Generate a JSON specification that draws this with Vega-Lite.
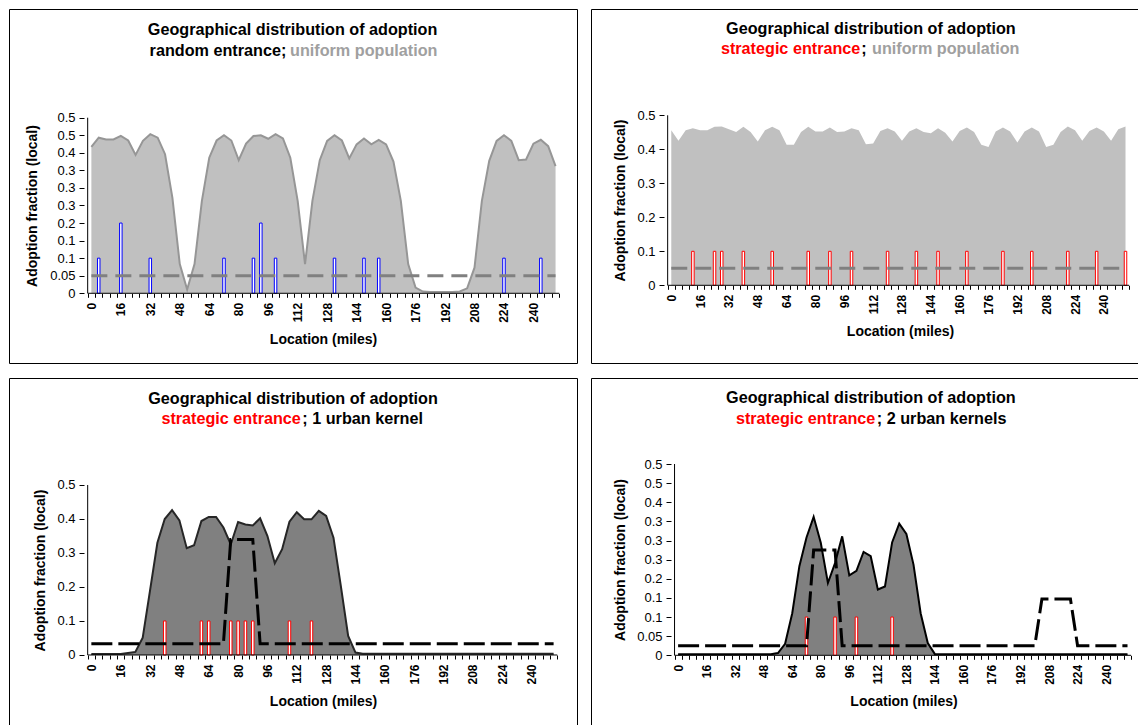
{
  "$schema": "https://vega.github.io/schema/vega-lite/v6.json",
  "background": "white",
  "padding": {"left": 8, "top": 8, "right": 0, "bottom": 0},
  "config": {
    "font": "Liberation Sans",
    "view": {"stroke": "#000000", "strokeWidth": 1},
    "axis": {"labelFont": "Liberation Sans", "titleFont": "Liberation Sans", "grid": false},
    "text": {"font": "Liberation Sans", "fontSize": 16.2, "fontWeight": "bold", "baseline": "middle"}
  },
  "datasets": {
    "p1area": [
      {"mi":0,"v":0.417},{"mi":4,"v":0.443},{"mi":8,"v":0.438},{"mi":12,"v":0.438},{"mi":16,"v":0.448},{"mi":20,"v":0.435},{"mi":24,"v":0.394},{"mi":28,"v":0.434},{"mi":32,"v":0.453},{"mi":36,"v":0.443},
      {"mi":40,"v":0.396},{"mi":44,"v":0.272},{"mi":48,"v":0.083},{"mi":52,"v":0.011},{"mi":56,"v":0.083},{"mi":60,"v":0.263},{"mi":64,"v":0.386},{"mi":68,"v":0.435},{"mi":72,"v":0.45},{"mi":76,"v":0.435},
      {"mi":80,"v":0.379},{"mi":84,"v":0.426},{"mi":88,"v":0.448},{"mi":92,"v":0.45},{"mi":96,"v":0.44},{"mi":100,"v":0.453},{"mi":104,"v":0.441},{"mi":108,"v":0.386},{"mi":112,"v":0.263},{"mi":116,"v":0.083},
      {"mi":120,"v":0.263},{"mi":124,"v":0.379},{"mi":128,"v":0.434},{"mi":132,"v":0.45},{"mi":136,"v":0.435},{"mi":140,"v":0.384},{"mi":144,"v":0.424},{"mi":148,"v":0.441},{"mi":152,"v":0.424},{"mi":156,"v":0.437},
      {"mi":160,"v":0.424},{"mi":164,"v":0.375},{"mi":168,"v":0.263},{"mi":172,"v":0.083},{"mi":176,"v":0.016},{"mi":180,"v":0.005},{"mi":184,"v":0.004},{"mi":188,"v":0.004},{"mi":192,"v":0.004},{"mi":196,"v":0.004},
      {"mi":200,"v":0.005},{"mi":204,"v":0.014},{"mi":208,"v":0.073},{"mi":212,"v":0.263},{"mi":216,"v":0.377},{"mi":220,"v":0.434},{"mi":224,"v":0.45},{"mi":228,"v":0.434},{"mi":232,"v":0.379},{"mi":236,"v":0.381},
      {"mi":240,"v":0.426},{"mi":244,"v":0.437},{"mi":248,"v":0.419},{"mi":252,"v":0.362}
    ],
    "p1bars": [
      {"mi":4,"v":0.1},{"mi":16,"v":0.2},{"mi":32,"v":0.1},{"mi":72,"v":0.1},{"mi":88,"v":0.1},{"mi":92,"v":0.2},{"mi":100,"v":0.1},{"mi":132,"v":0.1},{"mi":148,"v":0.1},{"mi":156,"v":0.1},{"mi":224,"v":0.1},{"mi":244,"v":0.1}
    ],
    "flatdash": [{"mi":0,"v":0.05},{"mi":252,"v":0.05}],
    "p2area": [
      {"mi":0,"v":0.456},{"mi":4,"v":0.425},{"mi":8,"v":0.456},{"mi":12,"v":0.462},{"mi":16,"v":0.456},{"mi":20,"v":0.456},{"mi":24,"v":0.466},{"mi":28,"v":0.467},{"mi":32,"v":0.459},{"mi":36,"v":0.451},
      {"mi":40,"v":0.466},{"mi":44,"v":0.451},{"mi":48,"v":0.423},{"mi":52,"v":0.456},{"mi":56,"v":0.466},{"mi":60,"v":0.456},{"mi":64,"v":0.413},{"mi":68,"v":0.413},{"mi":72,"v":0.451},{"mi":76,"v":0.466},
      {"mi":80,"v":0.452},{"mi":84,"v":0.452},{"mi":88,"v":0.464},{"mi":92,"v":0.451},{"mi":96,"v":0.452},{"mi":100,"v":0.462},{"mi":104,"v":0.456},{"mi":108,"v":0.415},{"mi":112,"v":0.417},{"mi":116,"v":0.454},
      {"mi":120,"v":0.462},{"mi":124,"v":0.452},{"mi":128,"v":0.425},{"mi":132,"v":0.452},{"mi":136,"v":0.462},{"mi":140,"v":0.451},{"mi":144,"v":0.447},{"mi":148,"v":0.462},{"mi":152,"v":0.449},{"mi":156,"v":0.423},
      {"mi":160,"v":0.454},{"mi":164,"v":0.464},{"mi":168,"v":0.451},{"mi":172,"v":0.413},{"mi":176,"v":0.407},{"mi":180,"v":0.452},{"mi":184,"v":0.464},{"mi":188,"v":0.452},{"mi":192,"v":0.42},{"mi":196,"v":0.452},
      {"mi":200,"v":0.464},{"mi":204,"v":0.452},{"mi":208,"v":0.407},{"mi":212,"v":0.413},{"mi":216,"v":0.451},{"mi":220,"v":0.467},{"mi":224,"v":0.456},{"mi":228,"v":0.425},{"mi":232,"v":0.454},{"mi":236,"v":0.464},
      {"mi":240,"v":0.452},{"mi":244,"v":0.425},{"mi":248,"v":0.459},{"mi":252,"v":0.467}
    ],
    "p2bars": [
      {"mi":12,"v":0.1},{"mi":24,"v":0.1},{"mi":28,"v":0.1},{"mi":40,"v":0.1},{"mi":56,"v":0.1},{"mi":76,"v":0.1},{"mi":88,"v":0.1},{"mi":100,"v":0.1},{"mi":120,"v":0.1},{"mi":136,"v":0.1},{"mi":148,"v":0.1},{"mi":164,"v":0.1},{"mi":184,"v":0.1},{"mi":200,"v":0.1},{"mi":220,"v":0.1},{"mi":236,"v":0.1},{"mi":252,"v":0.1}
    ],
    "p3area": [
      {"mi":0,"v":0.003},{"mi":4,"v":0.003},{"mi":8,"v":0.003},{"mi":12,"v":0.003},{"mi":16,"v":0.003},{"mi":20,"v":0.006},{"mi":24,"v":0.009},{"mi":28,"v":0.051},{"mi":32,"v":0.19},{"mi":36,"v":0.33},
      {"mi":40,"v":0.4},{"mi":44,"v":0.426},{"mi":48,"v":0.396},{"mi":52,"v":0.314},{"mi":56,"v":0.323},{"mi":60,"v":0.394},{"mi":64,"v":0.406},{"mi":68,"v":0.406},{"mi":72,"v":0.375},{"mi":76,"v":0.325},
      {"mi":80,"v":0.391},{"mi":84,"v":0.384},{"mi":88,"v":0.381},{"mi":92,"v":0.402},{"mi":96,"v":0.35},{"mi":100,"v":0.27},{"mi":104,"v":0.311},{"mi":108,"v":0.392},{"mi":112,"v":0.42},{"mi":116,"v":0.399},
      {"mi":120,"v":0.399},{"mi":124,"v":0.424},{"mi":128,"v":0.409},{"mi":132,"v":0.345},{"mi":136,"v":0.203},{"mi":140,"v":0.056},{"mi":144,"v":0.007},{"mi":148,"v":0.004},{"mi":152,"v":0.004},{"mi":156,"v":0.004},
      {"mi":160,"v":0.004},{"mi":164,"v":0.004},{"mi":168,"v":0.004},{"mi":172,"v":0.004},{"mi":176,"v":0.004},{"mi":180,"v":0.004},{"mi":184,"v":0.004},{"mi":188,"v":0.004},{"mi":192,"v":0.004},{"mi":196,"v":0.004},
      {"mi":200,"v":0.004},{"mi":204,"v":0.004},{"mi":208,"v":0.004},{"mi":212,"v":0.004},{"mi":216,"v":0.004},{"mi":220,"v":0.004},{"mi":224,"v":0.004},{"mi":228,"v":0.004},{"mi":232,"v":0.004},{"mi":236,"v":0.004},
      {"mi":240,"v":0.004},{"mi":244,"v":0.004},{"mi":248,"v":0.004},{"mi":252,"v":0.004}
    ],
    "p3bars": [
      {"mi":40,"v":0.1},{"mi":60,"v":0.1},{"mi":64,"v":0.1},{"mi":76,"v":0.1},{"mi":80,"v":0.1},{"mi":84,"v":0.1},{"mi":88,"v":0.1},{"mi":108,"v":0.1},{"mi":120,"v":0.1}
    ],
    "p3dash": [
      {"mi":0,"v":0.033},{"mi":72,"v":0.033},{"mi":76,"v":0.34},{"mi":88,"v":0.34},{"mi":92,"v":0.033},{"mi":252,"v":0.033}
    ],
    "p4area": [
      {"mi":0,"v":0.003},{"mi":4,"v":0.003},{"mi":8,"v":0.003},{"mi":12,"v":0.003},{"mi":16,"v":0.003},{"mi":20,"v":0.003},{"mi":24,"v":0.003},{"mi":28,"v":0.003},{"mi":32,"v":0.003},{"mi":36,"v":0.003},
      {"mi":40,"v":0.003},{"mi":44,"v":0.003},{"mi":48,"v":0.003},{"mi":52,"v":0.003},{"mi":56,"v":0.006},{"mi":60,"v":0.03},{"mi":64,"v":0.11},{"mi":68,"v":0.233},{"mi":72,"v":0.308},{"mi":76,"v":0.362},
      {"mi":80,"v":0.294},{"mi":84,"v":0.189},{"mi":88,"v":0.241},{"mi":92,"v":0.311},{"mi":96,"v":0.209},{"mi":100,"v":0.221},{"mi":104,"v":0.27},{"mi":108,"v":0.259},{"mi":112,"v":0.172},{"mi":116,"v":0.18},
      {"mi":120,"v":0.295},{"mi":124,"v":0.344},{"mi":128,"v":0.317},{"mi":132,"v":0.237},{"mi":136,"v":0.11},{"mi":140,"v":0.032},{"mi":144,"v":0.003},{"mi":148,"v":0.003},{"mi":152,"v":0.003},{"mi":156,"v":0.003},
      {"mi":160,"v":0.003},{"mi":164,"v":0.003},{"mi":168,"v":0.003},{"mi":172,"v":0.003},{"mi":176,"v":0.003},{"mi":180,"v":0.003},{"mi":184,"v":0.003},{"mi":188,"v":0.003},{"mi":192,"v":0.003},{"mi":196,"v":0.003},
      {"mi":200,"v":0.003},{"mi":204,"v":0.003},{"mi":208,"v":0.003},{"mi":212,"v":0.003},{"mi":216,"v":0.003},{"mi":220,"v":0.003},{"mi":224,"v":0.003},{"mi":228,"v":0.003},{"mi":232,"v":0.003},{"mi":236,"v":0.003},
      {"mi":240,"v":0.003},{"mi":244,"v":0.003},{"mi":248,"v":0.003},{"mi":252,"v":0.003}
    ],
    "p4bars": [
      {"mi":72,"v":0.1},{"mi":88,"v":0.1},{"mi":100,"v":0.1},{"mi":120,"v":0.1}
    ],
    "p4dash": [
      {"mi":0,"v":0.025},{"mi":72,"v":0.025},{"mi":76,"v":0.275},{"mi":88,"v":0.275},{"mi":92,"v":0.025},{"mi":200,"v":0.025},{"mi":204,"v":0.147},{"mi":220,"v":0.147},{"mi":224,"v":0.025},{"mi":252,"v":0.025}
    ]
  },
  "spacing": 13,
  "vconcat": [
    {
      "spacing": 12,
      "hconcat": [
        {
          "width": 568, "height": 354,
          "resolve": {"axis": {"x": "independent", "y": "independent"}},
          "layer": [
            {"data": {"name": "p1area"}, "mark": {"type": "area", "color": "#c0c0c0"},
             "encoding": {
               "x": {"field": "mi", "type": "quantitative", "scale": {"domain": [-42, 260.93], "nice": false, "zero": false},
                     "axis": {"values": [0,16,32,48,64,80,96,112,128,144,160,176,192,208,224,240], "orient": "bottom", "offset": -69.7, "domain": false, "ticks": false, "grid": false, "labelAngle": 270, "labelAlign": "right", "labelBaseline": "middle", "labelPadding": 9, "labelFontSize": 12, "labelFontWeight": "bold", "labelColor": "#000000", "labelFlush": false, "labelOverlap": false, "title": "Location (miles)", "titleFontSize": 14, "titleFontWeight": "bold", "titleColor": "#000000", "titleX": 314, "titleY": 45.7, "titleBaseline": "middle", "titleAlign": "center"}},
               "y": {"field": "v", "type": "quantitative", "scale": {"domain": [-0.1985, 0.8095], "nice": false, "zero": false},
                     "axis": {"values": [0,0.05,0.1,0.15,0.2,0.25,0.3,0.35,0.4,0.45,0.5], "orient": "left", "offset": -75, "domain": false, "grid": false, "tickSize": 5, "tickColor": "#000000", "labelPadding": 4, "labelFontSize": 13, "labelColor": "#000000", "labelFlush": false, "labelOverlap": false, "format": "~g", "title": "Adoption fraction (local)", "titleFontSize": 14, "titleFontWeight": "bold", "titleColor": "#000000", "titleX": -51.5, "titleY": 196.5, "titleBaseline": "middle", "titleAlign": "center", "titleAngle": 270}},
               "y2": {"datum": 0}
             }},
            {"data": {"name": "p1area"}, "mark": {"type": "line", "color": "#969696", "strokeWidth": 2},
             "encoding": {"x": {"field": "mi", "type": "quantitative", "axis": null}, "y": {"field": "v", "type": "quantitative", "axis": null}}},
            {"data": {"name": "p1bars"}, "mark": {"type": "bar", "size": 2.5, "fill": "#ffffff", "stroke": "#0000ff", "strokeWidth": 1},
             "encoding": {
               "x": {"field": "mi", "type": "quantitative",
                     "axis": {"values": [-2,2,6,10,14,18,22,26,30,34,38,42,46,50,54,58,62,66,70,74,78,82,86,90,94,98,102,106,110,114,118,122,126,130,134,138,142,146,150,154,158,162,166,170,174,178,182,186,190,194,198,202,206,210,214,218,222,226,230,234,238,242,246,250,254], "orient": "bottom", "offset": -69.7, "domain": false, "ticks": true, "tickSize": 4, "tickColor": "#000000", "labels": false, "grid": false, "title": null}},
               "y": {"field": "v", "type": "quantitative", "axis": null},
               "y2": {"datum": 0}
             }},
            {"data": {"name": "flatdash"}, "mark": {"type": "line", "color": "#808080", "strokeWidth": 3, "strokeDash": [16, 8]},
             "encoding": {"x": {"field": "mi", "type": "quantitative", "axis": null}, "y": {"field": "v", "type": "quantitative", "axis": null}}},
            {"data": {"values": [{}]}, "mark": {"type": "rule", "color": "#000000", "strokeWidth": 1},
             "encoding": {"x": {"datum": -2, "axis": null}, "y": {"datum": 0, "axis": null}, "y2": {"datum": 0.5}}},
            {"data": {"values": [{}]}, "mark": {"type": "rule", "color": "#000000", "strokeWidth": 1},
             "encoding": {"x": {"datum": -2, "axis": null}, "x2": {"datum": 254}, "y": {"datum": 0, "axis": null}}},
            {"data": {"values": [{}]}, "mark": {"type": "text", "text": "Geographical distribution of adoption", "align": "center", "color": "#000000"},
             "encoding": {"x": {"datum": 109.25, "axis": null}, "y": {"datum": 0.7497, "axis": null}}},
            {"data": {"values": [{}]}, "mark": {"type": "text", "text": "random entrance;", "align": "right", "color": "#000000"},
             "encoding": {"x": {"datum": 105.84, "axis": null}, "y": {"datum": 0.69, "axis": null}}},
            {"data": {"values": [{}]}, "mark": {"type": "text", "text": "uniform population", "align": "left", "dx": 3.7, "color": "#a0a0a0"},
             "encoding": {"x": {"datum": 105.84, "axis": null}, "y": {"datum": 0.69, "axis": null}}}
          ]
        },
        {
          "width": 549, "height": 354,
          "resolve": {"axis": {"x": "independent", "y": "independent"}},
          "layer": [
            {"data": {"name": "p2area"}, "mark": {"type": "area", "color": "#c0c0c0"},
             "encoding": {
               "x": {"field": "mi", "type": "quantitative", "scale": {"domain": [-41.76, 257.27], "nice": false, "zero": false},
                     "axis": {"values": [0,16,32,48,64,80,96,112,128,144,160,176,192,208,224,240], "orient": "bottom", "offset": -77.7, "domain": false, "ticks": false, "grid": false, "labelAngle": 270, "labelAlign": "right", "labelBaseline": "middle", "labelPadding": 9, "labelFontSize": 12, "labelFontWeight": "bold", "labelColor": "#000000", "labelFlush": false, "labelOverlap": false, "title": "Location (miles)", "titleFontSize": 14, "titleFontWeight": "bold", "titleColor": "#000000", "titleX": 309, "titleY": 45.7, "titleBaseline": "middle", "titleAlign": "center"}},
               "y": {"field": "v", "type": "quantitative", "scale": {"domain": [-0.2285, 0.8126], "nice": false, "zero": false},
                     "axis": {"values": [0,0.1,0.2,0.3,0.4,0.5], "orient": "left", "offset": -73, "domain": false, "grid": false, "tickSize": 5, "tickColor": "#000000", "labelPadding": 4, "labelFontSize": 13, "labelColor": "#000000", "labelFlush": false, "labelOverlap": false, "format": "~g", "title": "Adoption fraction (local)", "titleFontSize": 14, "titleFontWeight": "bold", "titleColor": "#000000", "titleX": -43.5, "titleY": 191, "titleBaseline": "middle", "titleAlign": "center", "titleAngle": 270}},
               "y2": {"datum": 0}
             }},
            {"data": {"name": "p2bars"}, "mark": {"type": "bar", "size": 2.5, "fill": "#ffffff", "stroke": "#ff0000", "strokeWidth": 1},
             "encoding": {
               "x": {"field": "mi", "type": "quantitative",
                     "axis": {"values": [-2,2,6,10,14,18,22,26,30,34,38,42,46,50,54,58,62,66,70,74,78,82,86,90,94,98,102,106,110,114,118,122,126,130,134,138,142,146,150,154,158,162,166,170,174,178,182,186,190,194,198,202,206,210,214,218,222,226,230,234,238,242,246,250,254], "orient": "bottom", "offset": -77.7, "domain": false, "ticks": true, "tickSize": 4, "tickColor": "#000000", "labels": false, "grid": false, "title": null}},
               "y": {"field": "v", "type": "quantitative", "axis": null},
               "y2": {"datum": 0}
             }},
            {"data": {"name": "flatdash"}, "mark": {"type": "line", "color": "#808080", "strokeWidth": 3, "strokeDash": [16, 8]},
             "encoding": {"x": {"field": "mi", "type": "quantitative", "axis": null}, "y": {"field": "v", "type": "quantitative", "axis": null}}},
            {"data": {"values": [{}]}, "mark": {"type": "rule", "color": "#000000", "strokeWidth": 1},
             "encoding": {"x": {"datum": -2, "axis": null}, "y": {"datum": 0, "axis": null}, "y2": {"datum": 0.5}}},
            {"data": {"values": [{}]}, "mark": {"type": "rule", "color": "#000000", "strokeWidth": 1},
             "encoding": {"x": {"datum": -2, "axis": null}, "x2": {"datum": 254}, "y": {"datum": 0, "axis": null}}},
            {"data": {"values": [{}]}, "mark": {"type": "text", "text": "Geographical distribution of adoption", "align": "center", "color": "#000000"},
             "encoding": {"x": {"datum": 110.75, "axis": null}, "y": {"datum": 0.7547, "axis": null}}},
            {"data": {"values": [{}]}, "mark": {"type": "text", "text": "strategic entrance", "align": "right", "color": "#ff0000"},
             "encoding": {"x": {"datum": 104.9, "axis": null}, "y": {"datum": 0.695, "axis": null}}},
            {"data": {"values": [{}]}, "mark": {"type": "text", "text": ";", "align": "left", "dx": 1, "color": "#000000"},
             "encoding": {"x": {"datum": 104.9, "axis": null}, "y": {"datum": 0.695, "axis": null}}},
            {"data": {"values": [{}]}, "mark": {"type": "text", "text": "uniform population", "align": "left", "dx": 11.7, "color": "#a0a0a0"},
             "encoding": {"x": {"datum": 104.9, "axis": null}, "y": {"datum": 0.695, "axis": null}}}
          ]
        }
      ]
    },
    {
      "spacing": 12,
      "hconcat": [
        {
          "width": 568, "height": 349,
          "resolve": {"axis": {"x": "independent", "y": "independent"}},
          "layer": [
            {"data": {"name": "p3area"}, "mark": {"type": "area", "color": "#808080"},
             "encoding": {
               "x": {"field": "mi", "type": "quantitative", "scale": {"domain": [-42.17, 262.03], "nice": false, "zero": false},
                     "axis": {"values": [0,16,32,48,64,80,96,112,128,144,160,176,192,208,224,240], "orient": "bottom", "offset": -72, "domain": false, "ticks": false, "grid": false, "labelAngle": 270, "labelAlign": "right", "labelBaseline": "middle", "labelPadding": 9, "labelFontSize": 12, "labelFontWeight": "bold", "labelColor": "#000000", "labelFlush": false, "labelOverlap": false, "title": "Location (miles)", "titleFontSize": 14, "titleFontWeight": "bold", "titleColor": "#000000", "titleX": 314, "titleY": 46, "titleBaseline": "middle", "titleAlign": "center"}},
               "y": {"field": "v", "type": "quantitative", "scale": {"domain": [-0.2118, 0.8147], "nice": false, "zero": false},
                     "axis": {"values": [0,0.1,0.2,0.3,0.4,0.5], "orient": "left", "offset": -75, "domain": false, "grid": false, "tickSize": 5, "tickColor": "#000000", "labelPadding": 4, "labelFontSize": 13, "labelColor": "#000000", "labelFlush": false, "labelOverlap": false, "format": "~g", "title": "Adoption fraction (local)", "titleFontSize": 14, "titleFontWeight": "bold", "titleColor": "#000000", "titleX": -44, "titleY": 192, "titleBaseline": "middle", "titleAlign": "center", "titleAngle": 270}},
               "y2": {"datum": 0}
             }},
            {"data": {"name": "p3area"}, "mark": {"type": "line", "color": "#262626", "strokeWidth": 2},
             "encoding": {"x": {"field": "mi", "type": "quantitative", "axis": null}, "y": {"field": "v", "type": "quantitative", "axis": null}}},
            {"data": {"name": "p3bars"}, "mark": {"type": "bar", "size": 2.5, "fill": "#ffffff", "stroke": "#ff0000", "strokeWidth": 1},
             "encoding": {
               "x": {"field": "mi", "type": "quantitative",
                     "axis": {"values": [-2,2,6,10,14,18,22,26,30,34,38,42,46,50,54,58,62,66,70,74,78,82,86,90,94,98,102,106,110,114,118,122,126,130,134,138,142,146,150,154,158,162,166,170,174,178,182,186,190,194,198,202,206,210,214,218,222,226,230,234,238,242,246,250,254], "orient": "bottom", "offset": -72, "domain": false, "ticks": true, "tickSize": 4, "tickColor": "#000000", "labels": false, "grid": false, "title": null}},
               "y": {"field": "v", "type": "quantitative", "axis": null},
               "y2": {"datum": 0}
             }},
            {"data": {"name": "p3dash"}, "mark": {"type": "line", "color": "#000000", "strokeWidth": 3, "strokeDash": [21, 6]},
             "encoding": {"x": {"field": "mi", "type": "quantitative", "axis": null}, "y": {"field": "v", "type": "quantitative", "axis": null}}},
            {"data": {"values": [{}]}, "mark": {"type": "rule", "color": "#000000", "strokeWidth": 1},
             "encoding": {"x": {"datum": -2, "axis": null}, "y": {"datum": 0, "axis": null}, "y2": {"datum": 0.5}}},
            {"data": {"values": [{}]}, "mark": {"type": "rule", "color": "#000000", "strokeWidth": 1},
             "encoding": {"x": {"datum": -2, "axis": null}, "x2": {"datum": 254}, "y": {"datum": 0, "axis": null}}},
            {"data": {"values": [{}]}, "mark": {"type": "text", "text": "Geographical distribution of adoption", "align": "center", "color": "#000000"},
             "encoding": {"x": {"datum": 109.94, "axis": null}, "y": {"datum": 0.7529, "axis": null}}},
            {"data": {"values": [{}]}, "mark": {"type": "text", "text": "strategic entrance", "align": "right", "color": "#ff0000"},
             "encoding": {"x": {"datum": 114.2, "axis": null}, "y": {"datum": 0.694, "axis": null}}},
            {"data": {"values": [{}]}, "mark": {"type": "text", "text": "; 1 urban kernel", "align": "left", "dx": 1.5, "color": "#000000"},
             "encoding": {"x": {"datum": 114.2, "axis": null}, "y": {"datum": 0.694, "axis": null}}}
          ]
        },
        {
          "width": 549, "height": 349,
          "resolve": {"axis": {"x": "independent", "y": "independent"}},
          "layer": [
            {"data": {"name": "p4area"}, "mark": {"type": "area", "color": "#808080"},
             "encoding": {
               "x": {"field": "mi", "type": "quantitative", "scale": {"domain": [-46.04, 256.2], "nice": false, "zero": false},
                     "axis": {"values": [0,16,32,48,64,80,96,112,128,144,160,176,192,208,224,240], "orient": "bottom", "offset": -71.7, "domain": false, "ticks": false, "grid": false, "labelAngle": 270, "labelAlign": "right", "labelBaseline": "middle", "labelPadding": 9, "labelFontSize": 12, "labelFontWeight": "bold", "labelColor": "#000000", "labelFlush": false, "labelOverlap": false, "title": "Location (miles)", "titleFontSize": 14, "titleFontWeight": "bold", "titleColor": "#000000", "titleX": 312.5, "titleY": 45.7, "titleBaseline": "middle", "titleAlign": "center"}},
               "y": {"field": "v", "type": "quantitative", "scale": {"domain": [-0.1874, 0.7248], "nice": false, "zero": false},
                     "axis": {"values": [0,0.05,0.1,0.15,0.2,0.25,0.3,0.35,0.4,0.45,0.5], "orient": "left", "offset": -80, "domain": false, "grid": false, "tickSize": 5, "tickColor": "#000000", "labelPadding": 4, "labelFontSize": 13, "labelColor": "#000000", "labelFlush": false, "labelOverlap": false, "format": "~g", "title": "Adoption fraction (local)", "titleFontSize": 14, "titleFontWeight": "bold", "titleColor": "#000000", "titleX": -50.5, "titleY": 181.5, "titleBaseline": "middle", "titleAlign": "center", "titleAngle": 270}},
               "y2": {"datum": 0}
             }},
            {"data": {"name": "p4area"}, "mark": {"type": "line", "color": "#000000", "strokeWidth": 2},
             "encoding": {"x": {"field": "mi", "type": "quantitative", "axis": null}, "y": {"field": "v", "type": "quantitative", "axis": null}}},
            {"data": {"name": "p4bars"}, "mark": {"type": "bar", "size": 2.5, "fill": "#ffffff", "stroke": "#ff0000", "strokeWidth": 1},
             "encoding": {
               "x": {"field": "mi", "type": "quantitative",
                     "axis": {"values": [-2,2,6,10,14,18,22,26,30,34,38,42,46,50,54,58,62,66,70,74,78,82,86,90,94,98,102,106,110,114,118,122,126,130,134,138,142,146,150,154,158,162,166,170,174,178,182,186,190,194,198,202,206,210,214,218,222,226,230,234,238,242,246,250,254], "orient": "bottom", "offset": -71.7, "domain": false, "ticks": true, "tickSize": 4, "tickColor": "#000000", "labels": false, "grid": false, "title": null}},
               "y": {"field": "v", "type": "quantitative", "axis": null},
               "y2": {"datum": 0}
             }},
            {"data": {"name": "p4dash"}, "mark": {"type": "line", "color": "#000000", "strokeWidth": 3, "strokeDash": [21, 6]},
             "encoding": {"x": {"field": "mi", "type": "quantitative", "axis": null}, "y": {"field": "v", "type": "quantitative", "axis": null}}},
            {"data": {"values": [{}]}, "mark": {"type": "rule", "color": "#000000", "strokeWidth": 1},
             "encoding": {"x": {"datum": -2, "axis": null}, "y": {"datum": 0, "axis": null}, "y2": {"datum": 0.5}}},
            {"data": {"values": [{}]}, "mark": {"type": "rule", "color": "#000000", "strokeWidth": 1},
             "encoding": {"x": {"datum": -2, "axis": null}, "x2": {"datum": 254}, "y": {"datum": 0, "axis": null}}},
            {"data": {"values": [{}]}, "mark": {"type": "text", "text": "Geographical distribution of adoption", "align": "center", "color": "#000000"},
             "encoding": {"x": {"datum": 108.1, "axis": null}, "y": {"datum": 0.6725, "axis": null}}},
            {"data": {"values": [{}]}, "mark": {"type": "text", "text": "strategic entrance", "align": "right", "color": "#ff0000"},
             "encoding": {"x": {"datum": 110.6, "axis": null}, "y": {"datum": 0.6176, "axis": null}}},
            {"data": {"values": [{}]}, "mark": {"type": "text", "text": "; 2 urban kernels", "align": "left", "dx": 1.5, "color": "#000000"},
             "encoding": {"x": {"datum": 110.6, "axis": null}, "y": {"datum": 0.6176, "axis": null}}}
          ]
        }
      ]
    }
  ]
}
